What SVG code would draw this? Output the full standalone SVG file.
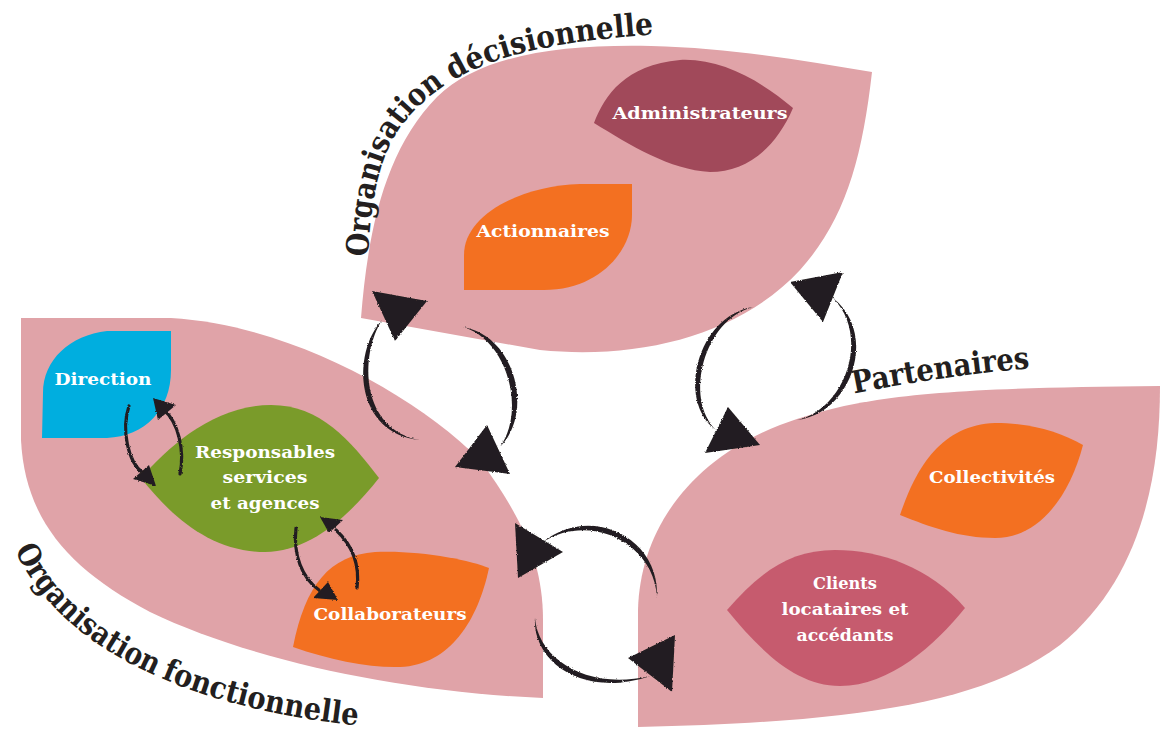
<svg xmlns="http://www.w3.org/2000/svg" width="1160" height="731" viewBox="0 0 1160 731">
<defs>
<style>
.leaf{fill:#E0A3A8}
.adm{fill:#A1495A}
.org{fill:#F37021}
.cyan{fill:#00AEDF}
.grn{fill:#7A9B2A}
.cli{fill:#C65B6E}
.lbl{font-family:"DejaVu Serif","Liberation Serif",serif;font-weight:bold;font-size:17px;fill:#ffffff;text-anchor:middle}
.ttl{font-family:"DejaVu Serif","Liberation Serif",serif;font-weight:bold;font-size:31px;fill:#231F20}
.ink{fill:#231F20}
.shaft{fill:none;stroke:#231F20;stroke-width:3.2;stroke-linecap:round}
</style>
<filter id="rough" x="-10%" y="-10%" width="120%" height="120%">
<feTurbulence type="fractalNoise" baseFrequency="0.8" numOctaves="2" seed="3"/>
<feDisplacementMap in="SourceGraphic" scale="2.5" xChannelSelector="R" yChannelSelector="G"/>
</filter>
<path id="p-dec" d="M368,262 C370,200 380,155 400,128 C420,100 450,78 492,62 C540,45 600,38 660,34"/>
<path id="p-fon" d="M14,548 C55,640 170,706 362,726"/>
<path id="p-par" d="M852,394 Q940,376 1034,368"/>
</defs>
<rect width="1160" height="731" fill="#ffffff"/>

<g id="org-decisionnelle">
<path class="leaf" d="M361,318 C368,230 385,150 437,97 C480,55 560,44 651,46 C730,48 800,60 872,72 C862,160 845,220 800,270 C740,335 640,360 540,350 L361,318 Z"/>
<text class="ttl"><textPath href="#p-dec" startOffset="5" textLength="197" lengthAdjust="spacingAndGlyphs">Organisation</textPath></text>
<text class="ttl"><textPath href="#p-dec" startOffset="211" textLength="208" lengthAdjust="spacingAndGlyphs">décisionnelle</textPath></text>
</g>
<g id="org-fonctionnelle">
<path class="leaf" d="M21,318 L171,318 C290,325 415,395 480,460 C520,515 543,560 543,620 L543,698 C400,692 250,660 150,612 C70,570 25,520 21,440 Z"/>
<text class="ttl"><textPath href="#p-fon" startOffset="2" textLength="192" lengthAdjust="spacingAndGlyphs">Organisation</textPath></text>
<text class="ttl"><textPath href="#p-fon" startOffset="201" textLength="203" lengthAdjust="spacingAndGlyphs">fonctionnelle</textPath></text>
</g>
<g id="partenaires">
<path class="leaf" d="M638,727 L638,610 C640,530 690,460 780,425 C860,395 940,388 1160,386 C1160,480 1140,580 1060,645 C980,705 850,722 638,727 Z"/>
<text class="ttl"><textPath href="#p-par" startOffset="2" textLength="178" lengthAdjust="spacingAndGlyphs">Partenaires</textPath></text>
</g>

<g id="administrateurs">
<path class="adm" d="M594,123 C605,95 625,65 680,60 C720,58 760,80 793,108 C775,150 745,172 710,172 C670,170 630,145 594,123 Z"/>
<text class="lbl" x="700" y="119" textLength="175" lengthAdjust="spacingAndGlyphs">Administrateurs</text>
</g>
<g id="actionnaires">
<path class="org" d="M632,184 L580,184 C520,186 464,215 464,255 L464,290 L544,290 C600,290 632,250 632,215 Z"/>
<text class="lbl" x="543" y="237" textLength="133" lengthAdjust="spacingAndGlyphs">Actionnaires</text>
</g>
<g id="direction">
<path class="cyan" d="M171,331 L107,331 C70,335 43,360 43,393 L42,438 L107,438 C145,436 171,410 171,370 Z"/>
<text class="lbl" x="103" y="385" textLength="97" lengthAdjust="spacingAndGlyphs">Direction</text>
</g>
<g id="responsables">
<path class="grn" d="M141,478 C170,445 215,405 271,405 C320,405 350,440 379,478 C350,515 310,552 265,552 C210,552 170,515 141,478 Z"/>
<text class="lbl" x="265" y="458" textLength="140" lengthAdjust="spacingAndGlyphs">Responsables</text>
<text class="lbl" x="265" y="483" textLength="85" lengthAdjust="spacingAndGlyphs">services</text>
<text class="lbl" x="265" y="509" textLength="109" lengthAdjust="spacingAndGlyphs">et agences</text>
</g>
<g id="collaborateurs">
<path class="org" d="M489,568 C470,560 420,550 375,552 C330,555 305,585 293,647 C330,660 370,668 400,667 C450,665 478,620 489,568 Z"/>
<text class="lbl" x="390" y="620" textLength="153" lengthAdjust="spacingAndGlyphs">Collaborateurs</text>
</g>
<g id="collectivites">
<path class="org" d="M900,515 C915,470 940,425 995,423 C1030,423 1060,432 1083,445 C1070,495 1040,538 995,538 C960,538 930,527 900,515 Z"/>
<text class="lbl" x="992" y="483" textLength="126" lengthAdjust="spacingAndGlyphs">Collectivités</text>
</g>
<g id="clients">
<path class="cli" d="M727,610 C760,572 790,550 835,550 C880,550 930,567 965,608 C935,645 890,686 840,686 C795,686 760,650 727,610 Z"/>
<text class="lbl" x="845" y="589" textLength="64" lengthAdjust="spacingAndGlyphs">Clients</text>
<text class="lbl" x="845" y="615" textLength="127" lengthAdjust="spacingAndGlyphs">locataires et</text>
<text class="lbl" x="845" y="641" textLength="97" lengthAdjust="spacingAndGlyphs">accédants</text>
</g>

<g id="connectors" filter="url(#rough)">
<path class="ink" d="M382,320 C351,354 355,434 420,440 C361,430 359,356 382,320 Z"/>
<polygon class="ink" points="427,301 372,291 395,341"/>
<path class="ink" d="M463,327 C516,336 534,413 500,447 C526,411 508,340 463,327 Z"/>
<polygon class="ink" points="455,467 487,425 510,474"/>
<path class="ink" d="M753,307 C697,316 676,401 716,430 C684,399 703,320 753,307 Z"/>
<polygon class="ink" points="760,445 705,453 728,407"/>
<path class="ink" d="M797,420 C851,414 879,334 833,298 C871,336 845,410 797,420 Z"/>
<polygon class="ink" points="790,282 843,272 823,322"/>
<path class="ink" d="M657,597 C660,537 590,504 543,542 C590,512 654,543 657,597 Z"/>
<polygon class="ink" points="518,578 515,523 563,552"/>
<path class="ink" d="M535,618 C532,662 584,699 650,676 C586,691 538,658 535,618 Z"/>
<polygon class="ink" points="675,635 628,658 672,692"/>
<path class="shaft" d="M129,406 C121,430 128,462 143,473"/>
<polygon class="ink" points="156,486 133,479 149,465"/>
<path class="shaft" d="M180,474 C185,450 178,422 164,410"/>
<polygon class="ink" points="153,398 176,405 158,420"/>
<path class="shaft" d="M296,528 C293,555 302,578 319,590"/>
<polygon class="ink" points="338,600 313,598 328,582"/>
<path class="shaft" d="M357,588 C360,565 352,545 336,530"/>
<polygon class="ink" points="320,517 343,520 329,533"/>
</g>
</svg>
